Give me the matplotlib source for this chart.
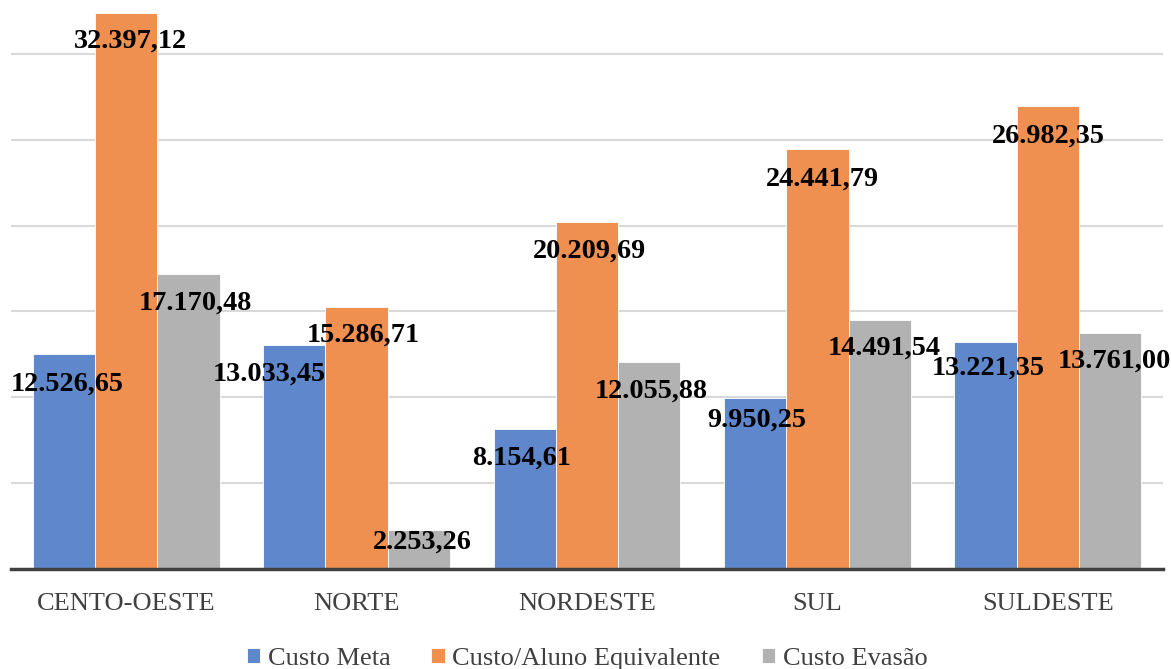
import numpy as np
import matplotlib.pyplot as plt

# Dados
regioes = ['CENTO-OESTE', 'NORTE', 'NORDESTE', 'SUL', 'SULDESTE']
custo_meta = [12526.65, 13033.45, 8154.61, 9950.25, 13221.35]
custo_aluno = [32397.12, 15286.71, 20209.69, 24441.79, 26982.35]
custo_evasao = [17170.48, 2253.26, 12055.88, 14491.54, 13761.00]
series = ['Custo Meta', 'Custo/Aluno Equivalente', 'Custo Evasão']

cores = ['#5F87CC', '#EF8F50', '#B2B2B2']

# deslocamento dos rotulos (pixels) - ajustados a mao como no original
desloc_x = [[3, -25, -3, 2, 3], [4, 7, 3, 5, 1], [7, 4, 2, 5, 4]]
desloc_y = [[-30, -29, -29, -22, -26], [-28, -29, -29, -30, -30], [-29, -12, -29, -28, -28]]


def fmt(v):
    s = f'{v:,.2f}'
    return s.replace(',', 'X').replace('.', ',').replace('X', '.')


plt.rcParams['font.family'] = ['Liberation Serif', 'DejaVu Serif']

fig = plt.figure(figsize=(11.71, 6.69), dpi=100)
ax = fig.add_axes([11 / 1171, 1 - 569 / 669, 1152 / 1171, 569 / 669])

x = np.arange(len(regioes))
w = 0.27
dados = [custo_meta, custo_aluno, custo_evasao]
for i, (vals, nome) in enumerate(zip(dados, series)):
    pos = x + (i - 1) * w
    bars = ax.bar(pos, vals, w, color=cores[i], label=nome,
                  edgecolor='white', linewidth=0.6, zorder=3)
    for j, (b, v) in enumerate(zip(bars, vals)):
        ax.annotate(fmt(v), (b.get_x() + b.get_width() / 2, v),
                    xytext=(desloc_x[i][j], desloc_y[i][j]),
                    textcoords='offset pixels', ha='center', va='center',
                    fontsize=20.3, fontweight='bold', color='black', zorder=5)

ax.set_xlim(-0.5, 4.5)
ax.set_ylim(0, 33140)
ax.set_yticks(np.arange(5000, 33000, 5000))
ax.yaxis.grid(True, color='#D9D9D9', linewidth=1.5, zorder=0)
ax.tick_params(axis='y', left=False, labelleft=False)
ax.set_xticks(x)
ax.set_xticklabels(regioes, fontsize=19, color='#404040')
ax.tick_params(axis='x', length=0, pad=17)

for s in ['top', 'right', 'left']:
    ax.spines[s].set_visible(False)
ax.spines['bottom'].set_color('#404040')
ax.spines['bottom'].set_linewidth(2.5)
ax.spines['bottom'].set_zorder(4)

ax.legend(loc='center', bbox_to_anchor=(0.5, -0.158), ncol=3, frameon=False,
          fontsize=19, handlelength=0.5, handleheight=0.5, handletextpad=0.3,
          columnspacing=1.55, labelcolor='#404040')

fig.savefig('out.png', dpi=100)
